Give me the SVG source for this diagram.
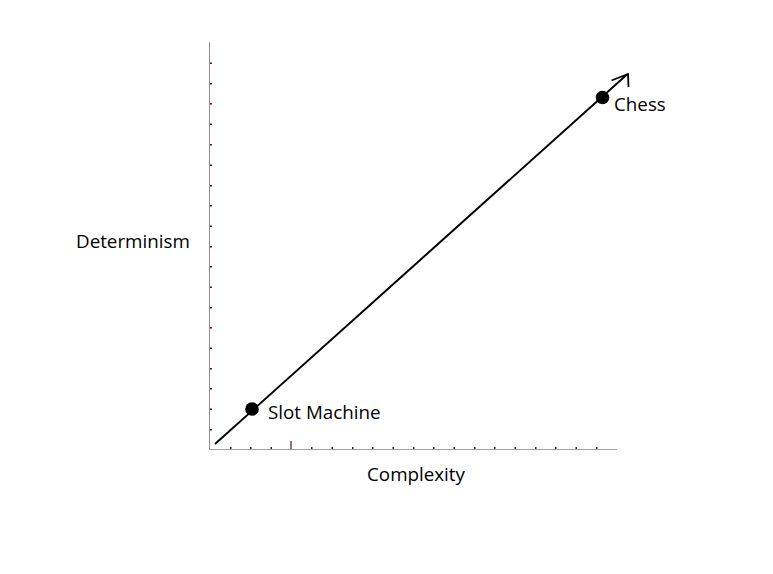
<svg xmlns="http://www.w3.org/2000/svg" width="773" height="574" viewBox="0 0 773 574">
<style>
.lbl{font-family:"Segoe UI","Open Sans","Noto Sans","Liberation Sans",sans-serif;font-size:18.8px;fill:#000}
.tk{fill:#6b1010}
</style>
<rect width="773" height="574" fill="#fff"/>
<g id="axes">
<line x1="209.5" y1="42" x2="209.5" y2="449" stroke="#a08888" stroke-width="1"/>
<line x1="209" y1="449.5" x2="617" y2="449.5" stroke="#a0a0a0" stroke-width="1.2"/>
<line x1="291" y1="441" x2="291" y2="449" stroke="#5a1010" stroke-width="1.2"/>
<g id="yticks" class="tk">
<rect x="210" y="62.5" width="2" height="1.5"/><rect x="210" y="83" width="2" height="1.5"/><rect x="210" y="103" width="2" height="1.5"/><rect x="210" y="123.5" width="2" height="1.5"/><rect x="210" y="144" width="2" height="1.5"/><rect x="210" y="164.5" width="2" height="1.5"/><rect x="210" y="185" width="2" height="1.5"/><rect x="210" y="205" width="2" height="1.5"/><rect x="210" y="225.5" width="2" height="1.5"/><rect x="210" y="246" width="2" height="1.5"/><rect x="210" y="266" width="2" height="1.5"/><rect x="210" y="286.5" width="2" height="1.5"/><rect x="210" y="307" width="2" height="1.5"/><rect x="210" y="327" width="2" height="1.5"/><rect x="210" y="347.5" width="2" height="1.5"/><rect x="210" y="368" width="2" height="1.5"/><rect x="210" y="388" width="2" height="1.5"/><rect x="210" y="408.5" width="2" height="1.5"/><rect x="210" y="429" width="2" height="1.5"/>
</g>
<g id="xticks" class="tk">
<rect x="230" y="447" width="1.5" height="2"/><rect x="250" y="447" width="1.5" height="2"/><rect x="270.5" y="447" width="1.5" height="2"/><rect x="311" y="447" width="1.5" height="2"/><rect x="331.5" y="447" width="1.5" height="2"/><rect x="352" y="447" width="1.5" height="2"/><rect x="372" y="447" width="1.5" height="2"/><rect x="392.5" y="447" width="1.5" height="2"/><rect x="413" y="447" width="1.5" height="2"/><rect x="433" y="447" width="1.5" height="2"/><rect x="453.5" y="447" width="1.5" height="2"/><rect x="474" y="447" width="1.5" height="2"/><rect x="494" y="447" width="1.5" height="2"/><rect x="514.5" y="447" width="1.5" height="2"/><rect x="535" y="447" width="1.5" height="2"/><rect x="555" y="447" width="1.5" height="2"/><rect x="575.5" y="447" width="1.5" height="2"/><rect x="596" y="447" width="1.5" height="2"/>
</g>
<text class="lbl" x="76" y="248">Determinism</text>
<text class="lbl" x="367" y="481">Complexity</text>
</g>
<g id="connectors">
<line x1="215" y1="444" x2="627" y2="74.5" stroke="#000" stroke-width="2"/>
<polyline points="611.5,80.5 628,74 628.5,87" fill="none" stroke="#000" stroke-width="1.8" stroke-linejoin="miter"/>
</g>
<g id="slot">
<circle cx="252" cy="409" r="6.8" fill="#000"/>
<text class="lbl" x="268" y="419">Slot Machine</text>
</g>
<g id="chess">
<circle cx="602.5" cy="97.5" r="6.8" fill="#000"/>
<text class="lbl" x="614" y="111">Chess</text>
</g>
</svg>
